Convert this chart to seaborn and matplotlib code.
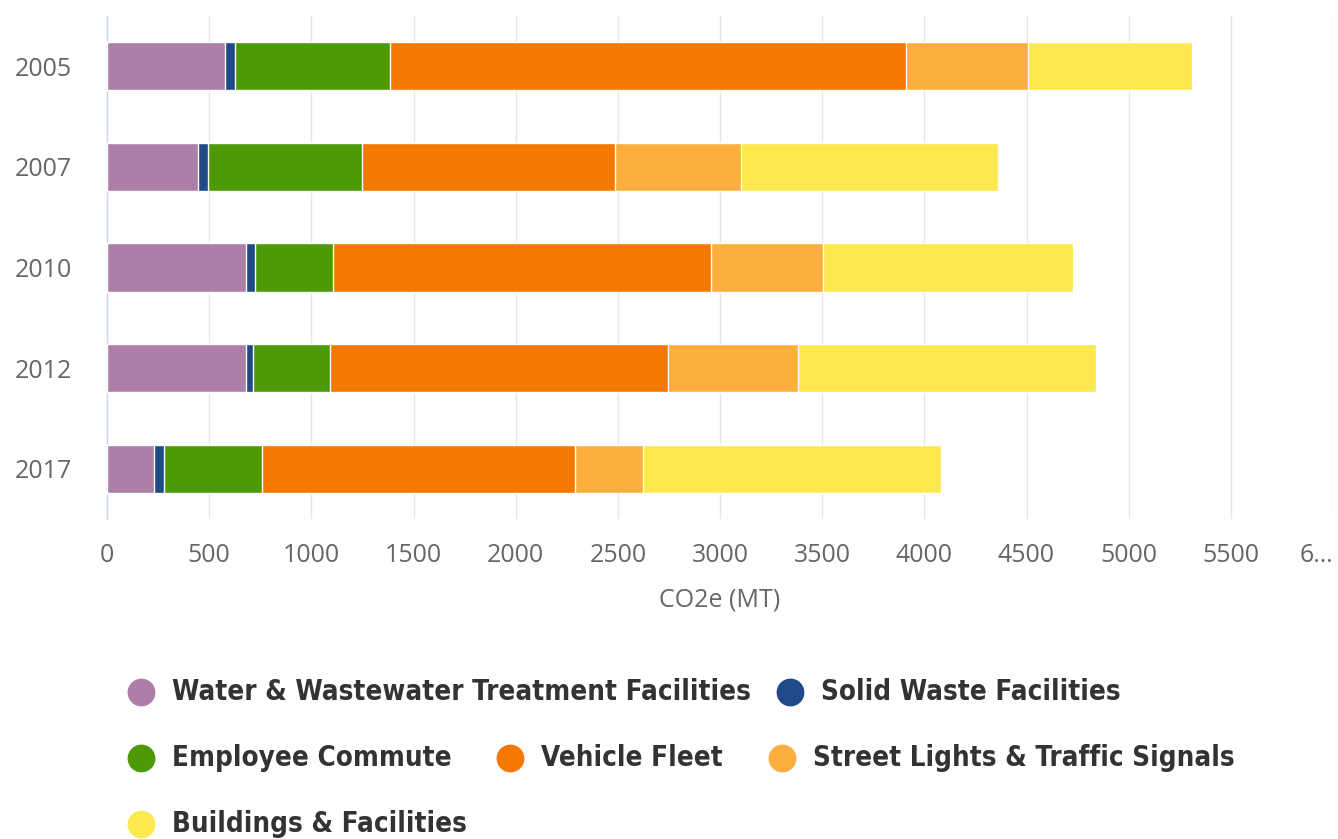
import matplotlib
matplotlib.use("Agg")
import matplotlib.pyplot as plt
from matplotlib import font_manager as fm
from matplotlib.lines import Line2D
import pandas as pd
import seaborn as sns

# Municipal operations emissions by source, CO2e (MT)
years = ["2005", "2007", "2010", "2012", "2017"]
water_wastewater = [578, 445, 679, 679, 232]
solid_waste = [46, 47, 45, 34, 45]
employee_commute = [759, 758, 381, 380, 481]
vehicle_fleet = [2529, 1238, 1852, 1654, 1530]
street_lights = [593, 615, 547, 635, 334]
buildings = [803, 1258, 1224, 1458, 1459]

series_names = [
    "Water & Wastewater Treatment Facilities",
    "Solid Waste Facilities",
    "Employee Commute",
    "Vehicle Fleet",
    "Street Lights & Traffic Signals",
    "Buildings & Facilities",
]
series_values = [water_wastewater, solid_waste, employee_commute,
                 vehicle_fleet, street_lights, buildings]
series_colors = ["#ad7fa8", "#204a87", "#4e9a06", "#f57900", "#fcaf3e", "#fce94f"]

x_ticks = list(range(0, 6001, 500))
x_tick_labels = [str(v) for v in x_ticks[:-1]] + ["6…"]
x_title = "CO2e (MT)"

df = pd.DataFrame({"year": years})
for name, vals in zip(series_names, series_values):
    df[name] = vals
cum = df[series_names].cumsum(axis=1)

sns.set_style("white")
plt.rcParams["font.family"] = ["Open Sans", "DejaVu Sans"]

W, H = 1338, 839
fig = plt.figure(figsize=(W / 100, H / 100), dpi=100)
left_px, right_px, top_px, bottom_px = 107, 1333, 16, 519
ax = fig.add_axes([left_px / W, 1 - bottom_px / H,
                   (right_px - left_px) / W, (bottom_px - top_px) / H])

# stacked bars: draw cumulative totals from the outermost segment inward
for name, color in reversed(list(zip(series_names, series_colors))):
    sns.barplot(x=cum[name], y=df["year"], orient="h", order=years,
                color=color, saturation=1, width=0.48, errorbar=None,
                edgecolor="white", linewidth=1, ax=ax, zorder=3)

ax.set_xlim(0, 6000)
ax.set_ylim(4.5, -0.5)
ax.set_xticks(x_ticks)
ax.set_xticklabels(x_tick_labels)
ax.get_xticklabels()[-1].set_horizontalalignment("right")
ax.tick_params(axis="x", length=0, pad=17, labelsize=18, labelcolor="#666666")

# category boundaries get tick marks; labels sit at the centres
ax.set_yticks([i - 0.5 for i in range(len(years) + 1)])
ax.set_yticklabels([])
ax.tick_params(axis="y", which="major", length=15, width=1, color="#ccd6eb")
ax.set_yticks(range(len(years)), minor=True)
ax.set_yticklabels(years, minor=True)
ax.tick_params(axis="y", which="minor", length=0, pad=25, labelsize=18,
               labelcolor="#666666")

ax.grid(axis="x", color="#e6e6e6", linewidth=1)
ax.grid(axis="y", visible=False)
ax.set_axisbelow(True)
for side in ("top", "right", "bottom"):
    ax.spines[side].set_visible(False)
ax.spines["left"].set_color("#ccd6eb")
ax.spines["left"].set_linewidth(1)

ax.set_ylabel("")
ax.set_xlabel(x_title, fontsize=18, color="#666666", labelpad=14)


def legend_font():
    """Prefer a bold condensed face; otherwise a bold Roboto."""
    def is_bold(w):
        if isinstance(w, str):
            return w.lower() in ("bold", "semibold", "demibold", "demi")
        return 600 <= w <= 800
    for f in fm.fontManager.ttflist:
        narrow = ("Condensed" in f.name or "Narrow" in f.name
                  or str(f.stretch) in ("condensed", "semi-condensed"))
        if narrow and is_bold(f.weight):
            return fm.FontProperties(fname=f.fname)
    return fm.FontProperties(family="Roboto", weight="bold")


# legend laid out in rows beneath the chart
legend_layout = [
    (141, 692), (790, 692),
    (141, 758), (510, 758), (782, 758),
    (141, 824),
]
fp = legend_font()
fp.set_size(21)
renderer = fig.canvas.get_renderer()
probe = fig.text(0, 0, series_names[0], fontproperties=fp)
width_px = probe.get_window_extent(renderer).width
probe.remove()
fp.set_size(21 * min(1.0, 576 / width_px))

for (px, py), name, color in zip(legend_layout, series_names, series_colors):
    fx, fy = px / W, 1 - py / H
    fig.add_artist(Line2D([fx], [fy], transform=fig.transFigure, marker="o",
                          markersize=19, markerfacecolor=color,
                          markeredgecolor=color, linestyle="none"))
    fig.text((px + 31) / W, fy, name, fontproperties=fp,
             color="#333333", va="center", ha="left")

fig.savefig("out.png", dpi=100, facecolor="white")
